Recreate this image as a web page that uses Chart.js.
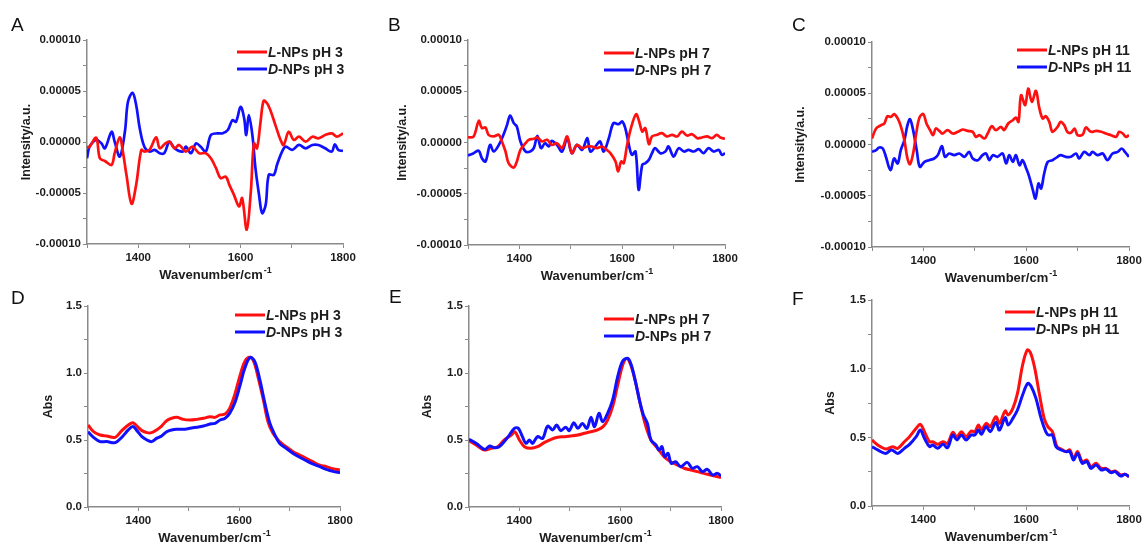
<!DOCTYPE html>
<html>
<head>
<meta charset="utf-8">
<script src="https://cdn.jsdelivr.net/npm/chart.js@4"></script>
<style>
  body { margin: 0; background: #fff; }
  #wrap { position: relative; width: 1144px; height: 548px; overflow: hidden; }
  #wrap canvas { position: absolute; }
  .tag { position: absolute; font: 19px "Liberation Sans", Arial, sans-serif; color: #111; line-height: 1; }
</style>
</head>
<body>
<div id="wrap"></div>
<script>
// wavenumber (cm-1) / value pairs
// A: CD, pH 3
const aLx = [1300,1305,1318,1325,1335,1348,1354,1364,1370,1377,1387,1396,1406,1412,1422,1435,1442,1451,1461,1471,1480,1493,1506,1519,1532,1542,1552,1561,1571,1578,1587,1597,1603,1612,1620,1626,1632,1639,1645,1652,1658,1668,1678,1684,1694,1704,1714,1727,1740,1752,1765,1778,1788,1800];
const aLy = [-0.52e-5,-0.46e-5,0.42e-5,-1.6e-5,-1.86e-5,-2.25e-5,-1.1e-5,0.46e-5,-0.94e-5,-3.22e-5,-6.06e-5,-4.2e-5,-0.78e-5,-0.94e-5,-0.78e-5,0.46e-5,-0.62e-5,-0.23e-5,0.03e-5,-0.62e-5,-0.29e-5,-0.94e-5,-0.46e-5,-1.1e-5,-1.1e-5,-1.6e-5,-2.57e-5,-3.55e-5,-3.39e-5,-4.2e-5,-5.18e-5,-6.32e-5,-5.5e-5,-8.6e-5,-4.85e-5,-0.13e-5,-0.62e-5,1.99e-5,4.04e-5,3.78e-5,3.13e-5,1.66e-5,0.2e-5,-0.29e-5,1.0e-5,0.2e-5,0.52e-5,0.03e-5,0.52e-5,0.36e-5,0.68e-5,0.85e-5,0.52e-5,0.85e-5];
const aDx = [1300,1305,1318,1328,1335,1348,1354,1364,1374,1380,1389,1396,1403,1412,1422,1432,1442,1451,1461,1471,1487,1493,1503,1513,1522,1532,1542,1555,1565,1575,1584,1591,1600,1607,1611,1616,1623,1629,1636,1642,1649,1655,1665,1671,1681,1688,1701,1714,1727,1740,1752,1765,1778,1784,1791,1800];
const aDy = [-1.6e-5,-0.46e-5,0.2e-5,-0.13e-5,-0.62e-5,1.0e-5,0.03e-5,-1.43e-5,1.0e-5,3.94e-5,4.82e-5,3.62e-5,1.34e-5,-0.46e-5,-0.94e-5,-0.78e-5,-1.1e-5,-1.1e-5,0.03e-5,-0.62e-5,-0.94e-5,-0.46e-5,-1.1e-5,-0.13e-5,-0.46e-5,-0.94e-5,0.68e-5,0.85e-5,0.85e-5,1.17e-5,2.15e-5,1.99e-5,3.45e-5,2.31e-5,0.68e-5,2.64e-5,0.68e-5,-2.57e-5,-5.18e-5,-6.97e-5,-6.16e-5,-3.22e-5,-3.22e-5,-2.25e-5,-0.94e-5,-0.46e-5,-0.78e-5,-0.29e-5,-0.62e-5,-0.29e-5,-0.29e-5,-0.62e-5,-0.94e-5,-0.23e-5,-0.78e-5,-0.88e-5];
// B: CD, pH 7
const bLx = [1300,1311,1321,1327,1334,1340,1350,1360,1366,1373,1379,1389,1395,1402,1412,1418,1428,1435,1444,1454,1463,1473,1483,1493,1502,1512,1522,1532,1541,1551,1561,1570,1577,1587,1592,1598,1603,1609,1617,1627,1633,1639,1645,1652,1658,1668,1677,1687,1697,1707,1716,1726,1736,1746,1755,1765,1775,1784,1791,1800];
const bLy = [0.49e-5,0.59e-5,2.11e-5,1.4e-5,1.46e-5,0.75e-5,0.59e-5,0.75e-5,0.1e-5,-0.88e-5,-2.02e-5,-2.44e-5,-1.85e-5,-0.72e-5,-0.07e-5,0.26e-5,0.36e-5,0.49e-5,0.1e-5,0.26e-5,-0.23e-5,-0.07e-5,-0.55e-5,0.59e-5,-1.04e-5,-0.23e-5,-0.55e-5,-0.39e-5,-0.39e-5,-0.55e-5,-0.39e-5,-0.72e-5,-1.04e-5,-1.85e-5,-2.83e-5,-1.85e-5,-2.02e-5,-0.39e-5,1.4e-5,2.76e-5,2.05e-5,1.07e-5,1.4e-5,-0.16e-5,0.59e-5,0.75e-5,0.91e-5,0.59e-5,0.75e-5,0.59e-5,1.07e-5,0.68e-5,0.81e-5,0.42e-5,0.49e-5,0.59e-5,0.42e-5,0.75e-5,0.49e-5,0.36e-5];
const bDx = [1300,1311,1321,1327,1334,1343,1350,1360,1369,1376,1382,1389,1395,1402,1412,1421,1428,1435,1442,1450,1457,1463,1473,1483,1493,1502,1512,1522,1532,1538,1548,1557,1564,1574,1583,1593,1600,1606,1613,1619,1626,1632,1639,1645,1652,1658,1664,1674,1684,1690,1700,1710,1720,1729,1739,1749,1758,1768,1778,1788,1794,1800];
const bDy = [-1.27e-5,-1.04e-5,-0.81e-5,-1.53e-5,-1.85e-5,-0.23e-5,-0.88e-5,-0.23e-5,0.75e-5,1.72e-5,2.63e-5,1.89e-5,1.56e-5,0.1e-5,-0.88e-5,-0.88e-5,-0.55e-5,0.65e-5,-0.55e-5,-0.07e-5,-0.39e-5,0.16e-5,-0.23e-5,-0.88e-5,0.42e-5,-1.04e-5,-0.23e-5,-0.72e-5,0.42e-5,-0.88e-5,-0.39e-5,0.1e-5,-0.88e-5,0.42e-5,1.89e-5,1.79e-5,2.05e-5,1.4e-5,-0.23e-5,-1.2e-5,-0.88e-5,-4.62e-5,-2.18e-5,-2.02e-5,-1.69e-5,-1.04e-5,-0.55e-5,-1.04e-5,-0.88e-5,-0.39e-5,-1.37e-5,-0.55e-5,-0.88e-5,-0.72e-5,-0.88e-5,-0.65e-5,-1.04e-5,-0.55e-5,-0.88e-5,-0.72e-5,-1.2e-5,-1.04e-5];
// C: CD, pH 11
const cLx = [1300,1308,1318,1324,1330,1337,1343,1350,1356,1363,1369,1374,1380,1387,1393,1400,1406,1413,1419,1424,1431,1437,1447,1457,1467,1476,1486,1496,1502,1509,1519,1525,1533,1541,1551,1557,1565,1574,1580,1585,1590,1598,1604,1611,1619,1625,1632,1638,1645,1651,1661,1667,1674,1680,1687,1694,1700,1710,1716,1726,1736,1746,1755,1765,1775,1781,1788,1794,1800];
const cLy = [0.59e-5,1.56e-5,1.89e-5,2.05e-5,2.76e-5,2.7e-5,2.96e-5,2.54e-5,1.79e-5,0.42e-5,-1.37e-5,-1.92e-5,-0.88e-5,1.4e-5,2.7e-5,2.96e-5,2.05e-5,1.4e-5,0.91e-5,1.56e-5,1.33e-5,1.07e-5,1.4e-5,1.07e-5,1.24e-5,1.46e-5,1.33e-5,1.24e-5,0.75e-5,0.91e-5,0.59e-5,1.07e-5,1.79e-5,1.4e-5,1.72e-5,1.4e-5,2.05e-5,2.37e-5,2.63e-5,2.21e-5,4.81e-5,3.84e-5,5.46e-5,4.16e-5,5.24e-5,3.67e-5,2.54e-5,2.76e-5,2.21e-5,1.24e-5,1.72e-5,2.21e-5,1.89e-5,1.24e-5,1.14e-5,1.56e-5,0.91e-5,0.98e-5,1.66e-5,1.24e-5,1.33e-5,1.24e-5,1.07e-5,0.91e-5,0.75e-5,1.24e-5,1.07e-5,0.75e-5,0.91e-5];
const cDx = [1300,1308,1314,1321,1327,1336,1343,1350,1356,1363,1369,1374,1380,1387,1393,1402,1411,1421,1428,1436,1442,1450,1460,1470,1480,1489,1496,1506,1515,1522,1528,1535,1544,1554,1561,1567,1574,1580,1587,1593,1600,1606,1613,1618,1624,1629,1635,1642,1651,1661,1667,1677,1687,1697,1703,1713,1723,1729,1739,1749,1758,1768,1778,1786,1792,1800];
const cDy = [-0.72e-5,-0.55e-5,-0.29e-5,-0.39e-5,-1.2e-5,-2.5e-5,-1.37e-5,-1.85e-5,-0.55e-5,0.42e-5,1.89e-5,2.47e-5,1.4e-5,-0.55e-5,-2.18e-5,-1.69e-5,-1.53e-5,-1.37e-5,-1.04e-5,-0.16e-5,-1.2e-5,-0.88e-5,-1.04e-5,-0.88e-5,-1.2e-5,-0.72e-5,-1.37e-5,-1.53e-5,-1.04e-5,-0.88e-5,-1.53e-5,-1.04e-5,-1.2e-5,-0.88e-5,-1.85e-5,-1.04e-5,-1.69e-5,-1.04e-5,-2.02e-5,-1.53e-5,-2.34e-5,-3.15e-5,-4.46e-5,-5.27e-5,-3.8e-5,-4.29e-5,-2.83e-5,-1.69e-5,-1.53e-5,-1.2e-5,-1.04e-5,-1.2e-5,-1.2e-5,-0.88e-5,-1.37e-5,-0.72e-5,-1.04e-5,-0.72e-5,-1.04e-5,-0.88e-5,-1.53e-5,-0.88e-5,-0.72e-5,-0.39e-5,-0.72e-5,-1.2e-5];
// D: absorbance, pH 3
const dLx = [1300,1311,1324,1337,1354,1367,1380,1389,1397,1407,1417,1426,1436,1446,1456,1466,1476,1489,1502,1516,1529,1542,1552,1562,1572,1581,1591,1601,1611,1621,1629,1638,1648,1657,1667,1680,1693,1707,1720,1733,1746,1760,1773,1786,1800];
const dLy = [0.612,0.562,0.537,0.530,0.520,0.570,0.612,0.629,0.604,0.570,0.555,0.555,0.575,0.604,0.644,0.662,0.669,0.654,0.649,0.654,0.662,0.674,0.669,0.687,0.694,0.736,0.836,0.973,1.085,1.117,1.085,0.960,0.799,0.637,0.550,0.488,0.450,0.413,0.388,0.363,0.338,0.313,0.301,0.286,0.276];
const dDx = [1300,1311,1324,1337,1354,1367,1380,1389,1397,1407,1417,1426,1436,1446,1456,1466,1476,1489,1502,1516,1529,1542,1552,1562,1572,1581,1591,1601,1611,1622,1631,1641,1651,1661,1671,1680,1693,1707,1720,1733,1746,1760,1773,1786,1800];
const dDy = [0.562,0.520,0.488,0.488,0.480,0.520,0.575,0.600,0.570,0.525,0.500,0.488,0.512,0.530,0.562,0.575,0.580,0.580,0.587,0.595,0.604,0.619,0.624,0.649,0.662,0.699,0.774,0.898,1.035,1.117,1.085,0.948,0.774,0.624,0.537,0.475,0.438,0.400,0.371,0.346,0.321,0.301,0.281,0.266,0.256];
// E: absorbance, pH 7
const eLx = [1300,1314,1331,1344,1357,1370,1384,1391,1400,1410,1423,1436,1449,1463,1476,1489,1502,1516,1529,1542,1555,1566,1575,1585,1595,1605,1613,1621,1631,1641,1651,1661,1674,1687,1700,1714,1727,1740,1753,1766,1779,1800];
const eLy = [0.495,0.463,0.425,0.438,0.450,0.500,0.537,0.562,0.500,0.450,0.438,0.450,0.480,0.505,0.520,0.525,0.530,0.537,0.550,0.562,0.575,0.600,0.649,0.749,0.910,1.060,1.109,1.060,0.923,0.749,0.600,0.500,0.438,0.376,0.338,0.313,0.289,0.276,0.264,0.251,0.239,0.219];
const eDx = [1300,1314,1331,1341,1350,1360,1370,1380,1390,1398,1406,1413,1420,1426,1436,1446,1456,1466,1474,1482,1492,1499,1508,1516,1525,1534,1542,1549,1558,1565,1575,1585,1595,1605,1615,1622,1631,1638,1646,1654,1661,1671,1677,1683,1688,1695,1701,1710,1720,1733,1743,1753,1763,1773,1783,1793,1800];
const eDy = [0.505,0.475,0.430,0.455,0.443,0.450,0.488,0.537,0.587,0.587,0.525,0.475,0.500,0.475,0.525,0.512,0.604,0.575,0.612,0.570,0.595,0.570,0.629,0.587,0.624,0.587,0.669,0.600,0.699,0.637,0.699,0.799,0.973,1.090,1.109,1.060,0.923,0.799,0.687,0.624,0.500,0.463,0.425,0.450,0.376,0.400,0.326,0.338,0.301,0.333,0.289,0.301,0.264,0.281,0.239,0.251,0.231];
// F: absorbance, pH 11
const fLx = [1300,1311,1327,1340,1350,1363,1373,1386,1394,1402,1412,1418,1428,1438,1447,1457,1465,1474,1483,1493,1500,1507,1513,1522,1530,1541,1548,1559,1565,1574,1583,1593,1602,1608,1616,1626,1635,1642,1651,1660,1668,1677,1685,1692,1700,1709,1718,1726,1736,1746,1755,1765,1773,1784,1792,1800];
const fLy = [0.481,0.444,0.415,0.432,0.420,0.468,0.505,0.566,0.595,0.541,0.468,0.468,0.449,0.468,0.456,0.536,0.505,0.541,0.505,0.546,0.541,0.590,0.553,0.602,0.578,0.650,0.602,0.692,0.663,0.711,0.820,1.027,1.136,1.119,1.015,0.808,0.638,0.578,0.541,0.432,0.415,0.396,0.408,0.347,0.396,0.323,0.335,0.286,0.311,0.274,0.274,0.250,0.255,0.226,0.231,0.214];
const fDx = [1300,1311,1327,1338,1350,1363,1373,1386,1394,1402,1412,1418,1428,1438,1447,1457,1465,1474,1483,1493,1500,1507,1513,1522,1530,1541,1548,1559,1565,1574,1583,1593,1603,1610,1619,1629,1638,1643,1651,1658,1668,1677,1685,1692,1700,1709,1718,1726,1736,1746,1755,1765,1773,1784,1792,1800];
const fDy = [0.432,0.408,0.383,0.408,0.383,0.420,0.449,0.505,0.553,0.493,0.432,0.444,0.420,0.449,0.425,0.517,0.481,0.517,0.481,0.517,0.517,0.553,0.522,0.578,0.541,0.609,0.553,0.643,0.590,0.638,0.699,0.808,0.893,0.869,0.784,0.638,0.541,0.517,0.517,0.432,0.408,0.396,0.396,0.335,0.383,0.311,0.323,0.274,0.299,0.262,0.269,0.243,0.250,0.218,0.231,0.214];

const xTickLabels = [1400, 1600, 1800];
const phValues = ['pH 3', 'pH 7', 'pH 11'];
const seriesNames = ['L-NPs', 'D-NPs'];
const RED = '#ff1010', BLUE = '#1010ff', AXIS = '#8a8a8a', INK = '#1c1c1c';
const FONT = '"Liberation Sans", Arial, sans-serif';

// plot box [left, top, right, bottom] in page px, legend offset, y-title offset
const panels = [
  { tag: 'A', tagPos: [11, 15], kind: 'cd', ph: 0, L: [aLx, aLy], D: [aDx, aDy], plot: [87, 40, 343, 244], legend: [150, 12], yTitleDx: 60 },
  { tag: 'B', tagPos: [388, 15], kind: 'cd', ph: 1, L: [bLx, bLy], D: [bDx, bDy], plot: [468, 40, 725, 245], legend: [136, 13], yTitleDx: 65 },
  { tag: 'C', tagPos: [792, 15], kind: 'cd', ph: 2, L: [cLx, cLy], D: [cDx, cDy], plot: [872, 42, 1129, 247], legend: [145, 8], yTitleDx: 71 },
  { tag: 'D', tagPos: [11, 288], kind: 'abs', ph: 0, L: [dLx, dLy], D: [dDx, dDy], plot: [88, 306, 340, 507], legend: [147, 9], yTitleDx: 39 },
  { tag: 'E', tagPos: [389, 287], kind: 'abs', ph: 1, L: [eLx, eLy], D: [eDx, eDy], plot: [469, 306, 721, 507], legend: [135, 13], yTitleDx: 41 },
  { tag: 'F', tagPos: [792, 289], kind: 'abs', ph: 2, L: [fLx, fLy], D: [fDx, fDy], plot: [872, 300, 1129, 506], legend: [133, 12], yTitleDx: 41 }
];

const deco = {
  id: 'deco',
  afterDraw(chart, args, opts) {
    const { ctx, chartArea: ca } = chart;
    ctx.save();
    ctx.fillStyle = INK;
    // y title
    ctx.save();
    ctx.translate(ca.left - opts.yTitleDx, (ca.top + ca.bottom) / 2);
    ctx.rotate(-Math.PI / 2);
    ctx.font = 'bold 12.5px ' + FONT;
    ctx.textAlign = 'center';
    ctx.textBaseline = 'middle';
    ctx.fillText(opts.yTitle, 0, 0);
    ctx.restore();
    // x title with superscript
    const main = 'Wavenumber/cm', sup = '-1';
    ctx.font = 'bold 13px ' + FONT;
    const mw = ctx.measureText(main).width;
    ctx.font = 'bold 9px ' + FONT;
    const sw = ctx.measureText(sup).width;
    const x0 = (ca.left + ca.right) / 2 - (mw + sw) / 2;
    const by = ca.bottom + 35;
    ctx.textAlign = 'left';
    ctx.textBaseline = 'alphabetic';
    ctx.font = 'bold 13px ' + FONT;
    ctx.fillText(main, x0, by);
    ctx.font = 'bold 9px ' + FONT;
    ctx.fillText(sup, x0 + mw + 1, by - 6);
    // legend: italic L/D prefix
    chart.data.datasets.forEach((ds, i) => {
      const lx = ca.left + opts.legend[0];
      const ly = ca.top + opts.legend[1] + i * 17;
      ctx.strokeStyle = ds.borderColor;
      ctx.lineWidth = 3;
      ctx.beginPath();
      ctx.moveTo(lx, ly);
      ctx.lineTo(lx + 30, ly);
      ctx.stroke();
      ctx.textBaseline = 'middle';
      ctx.font = 'italic bold 14px ' + FONT;
      const first = ds.label.charAt(0);
      ctx.fillText(first, lx + 31, ly + 1);
      const fw = ctx.measureText(first).width;
      ctx.font = 'bold 14px ' + FONT;
      ctx.fillText(ds.label.slice(1), lx + 31 + fw, ly + 1);
    });
    ctx.restore();
  }
};

const wrap = document.getElementById('wrap');
const padL = 80, padT = 35, padR = 25, padB = 45;

panels.forEach(p => {
  const [L, T, R, B] = p.plot;
  const cv = document.createElement('canvas');
  cv.width = R - L + padL + padR;
  cv.height = B - T + padT + padB;
  cv.style.left = (L - padL) + 'px';
  cv.style.top = (T - padT) + 'px';
  wrap.appendChild(cv);

  const tag = document.createElement('div');
  tag.className = 'tag';
  tag.textContent = p.tag;
  tag.style.left = p.tagPos[0] + 'px';
  tag.style.top = p.tagPos[1] + 'px';
  wrap.appendChild(tag);

  const cd = p.kind === 'cd';
  const step = cd ? 2.5e-5 : 0.25;
  const toPts = (xs, ys) => xs.map((x, i) => ({ x: x, y: ys[i] }));
  const lw = cd ? 2.7 : 3;

  new Chart(cv, {
    type: 'line',
    data: {
      datasets: [
        { label: seriesNames[0] + ' ' + phValues[p.ph], data: toPts(p.L[0], p.L[1]), borderColor: RED, borderWidth: lw, pointRadius: 0, tension: 0.35, order: cd ? 1 : 2 },
        { label: seriesNames[1] + ' ' + phValues[p.ph], data: toPts(p.D[0], p.D[1]), borderColor: BLUE, borderWidth: lw, pointRadius: 0, tension: 0.35, order: cd ? 2 : 1 }
      ]
    },
    options: {
      responsive: false,
      animation: false,
      events: [],
      layout: { padding: { top: padT, right: padR, left: 0, bottom: 0 } },
      scales: {
        x: {
          type: 'linear', min: 1300, max: 1800,
          afterFit: a => { a.height = padB; },
          border: { color: AXIS, width: 1.5 },
          grid: { drawOnChartArea: false, color: AXIS, tickLength: 4 },
          ticks: {
            stepSize: 100, autoSkip: false, maxRotation: 0, padding: 3,
            color: INK, font: { family: FONT, size: 11.5, weight: 'bold' },
            callback: v => xTickLabels.includes(Math.round(v)) ? String(Math.round(v)) : ''
          }
        },
        y: {
          min: cd ? -1e-4 : 0, max: cd ? 1e-4 : 1.5,
          afterFit: a => { a.width = padL; },
          border: { color: AXIS, width: 1.5 },
          grid: { drawOnChartArea: false, color: AXIS, tickLength: 4 },
          ticks: {
            stepSize: step, autoSkip: false, padding: 2,
            color: INK, font: { family: FONT, size: 11.5, weight: 'bold' },
            callback: v => {
              const k = Math.round(v / step);
              if (k % 2 !== 0) return '';
              return (k * step).toFixed(cd ? 5 : 1);
            }
          }
        }
      },
      plugins: {
        legend: { display: false },
        tooltip: { enabled: false },
        deco: { yTitle: cd ? 'Intensity/a.u.' : 'Abs', yTitleDx: p.yTitleDx, legend: p.legend }
      }
    },
    plugins: [deco]
  });
});
</script>
</body>
</html>
